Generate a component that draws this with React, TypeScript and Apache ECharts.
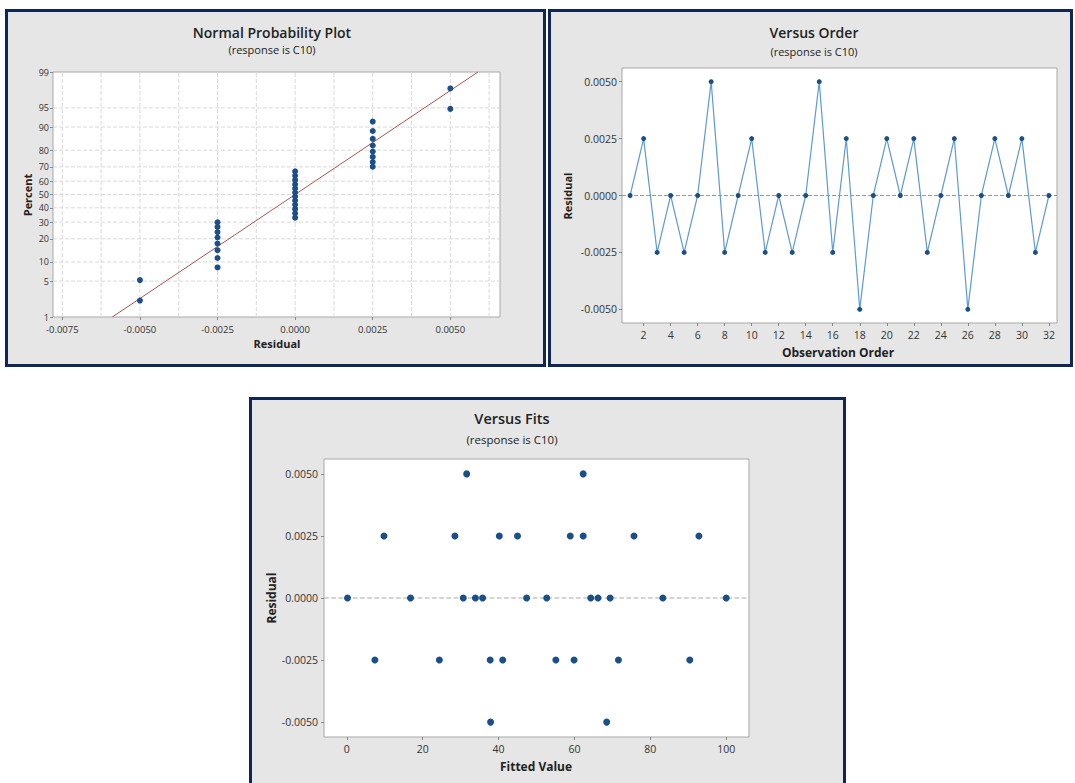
import React, { useEffect, useRef } from "react";
import * as echarts from "echarts";

// ---------- Normal probability plot data ----------
const normalResiduals = [
  -0.005, -0.005,
  -0.0025, -0.0025, -0.0025, -0.0025, -0.0025, -0.0025, -0.0025, -0.0025,
  0, 0, 0, 0, 0, 0, 0, 0, 0, 0, 0, 0,
  0.0025, 0.0025, 0.0025, 0.0025, 0.0025, 0.0025, 0.0025, 0.0025,
  0.005, 0.005,
];
const normalPercents = [
  2.2, 5.2,
  8.3, 11.4, 14.5, 17.6, 20.7, 23.8, 26.9, 29.9,
  33.0, 36.1, 39.2, 42.3, 45.4, 48.5, 51.5, 54.6, 57.7, 60.8, 63.9, 67.0,
  70.1, 73.1, 76.2, 79.3, 82.4, 85.5, 88.6, 91.7,
  94.8, 97.8,
];
const percentTicks = [1, 5, 10, 20, 30, 40, 50, 60, 70, 80, 90, 95, 99];
const percentGrid = [5, 10, 20, 30, 40, 50, 60, 70, 80, 90, 95];
const normalXTicks = [-0.0075, -0.005, -0.0025, 0, 0.0025, 0.005];
const normalXGrid = [-0.0075, -0.00625, -0.005, -0.00375, -0.0025, -0.00125, 0, 0.00125, 0.0025, 0.00375, 0.005, 0.00625];
const normalXRange = [-0.0078, 0.0066];
const fitLineResidual = [-0.00589, 0.00589];
const fitLinePercent = [1, 99];

// ---------- Versus order data ----------
const orderObs = [1, 2, 3, 4, 5, 6, 7, 8, 9, 10, 11, 12, 13, 14, 15, 16, 17, 18, 19, 20, 21, 22, 23, 24, 25, 26, 27, 28, 29, 30, 31, 32];
const orderResiduals = [
  0, 0.0025, -0.0025, 0, -0.0025, 0, 0.005, -0.0025, 0, 0.0025, -0.0025, 0, -0.0025, 0, 0.005, -0.0025,
  0.0025, -0.005, 0, 0.0025, 0, 0.0025, -0.0025, 0, 0.0025, -0.005, 0, 0.0025, 0, 0.0025, -0.0025, 0,
];
const orderXTicks = [2, 4, 6, 8, 10, 12, 14, 16, 18, 20, 22, 24, 26, 28, 30, 32];
const orderXRange = [0.4, 32.6];
const residualTicks = [-0.005, -0.0025, 0, 0.0025, 0.005];
const residualRange = [-0.0056, 0.0056];

// ---------- Versus fits data ----------
const fittedValues = [
  31.6, 62.3,
  9.8, 28.5, 40.2, 45.0, 58.9, 62.3, 75.7, 92.8,
  0.2, 16.8, 30.7, 33.9, 35.8, 47.4, 52.7, 64.3, 66.2, 69.4, 83.3, 100.0,
  7.4, 24.4, 37.8, 41.1, 55.1, 59.9, 71.6, 90.4,
  37.9, 68.5,
];
const fitResiduals = [
  0.005, 0.005,
  0.0025, 0.0025, 0.0025, 0.0025, 0.0025, 0.0025, 0.0025, 0.0025,
  0, 0, 0, 0, 0, 0, 0, 0, 0, 0, 0, 0,
  -0.0025, -0.0025, -0.0025, -0.0025, -0.0025, -0.0025, -0.0025, -0.0025,
  -0.005, -0.005,
];
const fitsXTicks = [0, 20, 40, 60, 80, 100];
const fitsXRange = [-6, 106];

// inverse normal CDF (probability-scale transform)
function probit(p: number): number {
  const a = [-3.969683028665376e1, 2.209460984245205e2, -2.759285104469687e2, 1.38357751867269e2, -3.066479806614716e1, 2.506628277459239];
  const b = [-5.447609879822406e1, 1.615858368580409e2, -1.556989798598866e2, 6.680131188771972e1, -1.328068155288572e1];
  const c = [-7.784894002430293e-3, -3.223964580411365e-1, -2.400758277161838, -2.549732539343734, 4.374664141464968, 2.938163982698783];
  const d = [7.784695709041462e-3, 3.224671290700398e-1, 2.445134137142996, 3.754408661907416];
  const plow = 0.02425;
  const phigh = 1 - plow;
  let q: number, r: number;
  if (p < plow) {
    q = Math.sqrt(-2 * Math.log(p));
    return (((((c[0] * q + c[1]) * q + c[2]) * q + c[3]) * q + c[4]) * q + c[5]) / ((((d[0] * q + d[1]) * q + d[2]) * q + d[3]) * q + 1);
  }
  if (p <= phigh) {
    q = p - 0.5;
    r = q * q;
    return ((((((a[0] * r + a[1]) * r + a[2]) * r + a[3]) * r + a[4]) * r + a[5]) * q) / (((((b[0] * r + b[1]) * r + b[2]) * r + b[3]) * r + b[4]) * r + 1);
  }
  q = Math.sqrt(-2 * Math.log(1 - p));
  return -(((((c[0] * q + c[1]) * q + c[2]) * q + c[3]) * q + c[4]) * q + c[5]) / ((((d[0] * q + d[1]) * q + d[2]) * q + d[3]) * q + 1);
}
const z = (pct: number) => probit(pct / 100);

const FONT = "'Open Sans', 'Noto Sans', sans-serif";
const DOT = "#1b4f87";
const TICK_COLOR = "#333";
const fmt4 = (v: number) => (Math.abs(v) < 1e-12 ? "0.0000" : v.toFixed(4));

export default function App() {
  const ref = useRef<HTMLDivElement>(null);
  useEffect(() => {
    if (!ref.current) return;
    const chart = echarts.init(ref.current, undefined, { renderer: "svg" });

    const zTicks = percentTicks.map(z);
    const zMin = z(1);
    const zMax = z(99);

    const labelStyle = { fontFamily: FONT, color: TICK_COLOR };
    const tickStyle = { show: true, length: 3, lineStyle: { color: "#888" } };
    const noLine = { show: false, onZero: false };

    const refLine = (axis: number, data: number[][], color: string, width: number, zz: number) => ({
      type: "line",
      xAxisIndex: axis,
      yAxisIndex: axis,
      data,
      symbol: "none",
      silent: true,
      z: zz,
      lineStyle: { color, type: "dashed", width },
    });

    const panel = (x: number, y: number, w: number, h: number) => ({
      type: "rect",
      z: -5,
      silent: true,
      shape: { x, y, width: w, height: h },
      style: { fill: "#e6e6e6", stroke: "#0f2657", lineWidth: 3 },
    });
    const text = (t: string, x: number, y: number, size: number, weight: any, rot = 0) => ({
      type: "text",
      x,
      y,
      rotation: rot,
      silent: true,
      style: {
        text: t,
        fontFamily: FONT,
        fontSize: size,
        fontWeight: weight,
        fill: "#222",
        textAlign: "center",
        textVerticalAlign: "middle",
      },
    });

    const gridSeries = [
      ...normalXGrid.map((v) => refLine(0, [[v, zMin], [v, zMax]], "#d9d9d9", 1, 1)),
      ...percentGrid.map((p) => refLine(0, [[normalXRange[0], z(p)], [normalXRange[1], z(p)]], "#d9d9d9", 1, 1)),
    ];

    const option: any = {
      animation: false,
      backgroundColor: "#ffffff",
      graphic: {
        elements: [
          panel(6.5, 10.5, 538, 355),
          panel(549.5, 10.5, 522, 355),
          panel(250.5, 398.5, 594, 400),
          text("Normal Probability Plot", 272, 32, 14, 600),
          text("(response is C10)", 272, 49, 11, "normal"),
          text("Percent", 27, 195, 11, "bold", Math.PI / 2),
          text("Residual", 277, 343, 11, "bold"),
          text("Versus Order", 814, 32, 14, 600),
          text("(response is C10)", 814, 51, 11, "normal"),
          text("Residual", 567, 196, 11, "bold", Math.PI / 2),
          text("Observation Order", 838, 352, 12, "bold"),
          text("Versus Fits", 512, 418, 14.5, 600),
          text("(response is C10)", 512, 439, 11.5, "normal"),
          text("Residual", 271, 598, 12, "bold", Math.PI / 2),
          text("Fitted Value", 536, 766, 12, "bold"),
        ],
      },
      grid: [
        { left: 53, top: 72, width: 447, height: 245, show: true, backgroundColor: "#fff", borderColor: "#a8a8a8", borderWidth: 1 },
        { left: 622, top: 68, width: 435, height: 255, show: true, backgroundColor: "#fff", borderColor: "#a8a8a8", borderWidth: 1 },
        { left: 324, top: 459, width: 425, height: 278, show: true, backgroundColor: "#fff", borderColor: "#a8a8a8", borderWidth: 1 },
      ],
      xAxis: [
        {
          gridIndex: 0, type: "value", min: normalXRange[0], max: normalXRange[1],
          axisLine: noLine, splitLine: { show: false },
          axisTick: { ...tickStyle, customValues: normalXTicks },
          axisLabel: { ...labelStyle, fontSize: 9.5, margin: 7, customValues: normalXTicks, formatter: fmt4 },
        },
        {
          gridIndex: 1, type: "value", min: orderXRange[0], max: orderXRange[1],
          axisLine: noLine, splitLine: { show: false },
          axisTick: { ...tickStyle, customValues: orderXTicks },
          axisLabel: { ...labelStyle, fontSize: 10.5, margin: 6, customValues: orderXTicks },
        },
        {
          gridIndex: 2, type: "value", min: fitsXRange[0], max: fitsXRange[1],
          axisLine: noLine, splitLine: { show: false },
          axisTick: { ...tickStyle, customValues: fitsXTicks },
          axisLabel: { ...labelStyle, fontSize: 10.5, margin: 6, customValues: fitsXTicks },
        },
      ],
      yAxis: [
        {
          gridIndex: 0, type: "value", min: zMin, max: zMax,
          axisLine: noLine, splitLine: { show: false },
          axisTick: { ...tickStyle, customValues: zTicks },
          axisLabel: {
            ...labelStyle, fontSize: 9, margin: 4, customValues: zTicks,
            formatter: (v: number) => {
              const i = zTicks.findIndex((t) => Math.abs(t - v) < 1e-6);
              return i >= 0 ? String(percentTicks[i]) : "";
            },
          },
        },
        {
          gridIndex: 1, type: "value", min: residualRange[0], max: residualRange[1],
          axisLine: noLine, splitLine: { show: false },
          axisTick: { ...tickStyle, customValues: residualTicks },
          axisLabel: { ...labelStyle, fontSize: 10.5, margin: 5, customValues: residualTicks, formatter: fmt4 },
        },
        {
          gridIndex: 2, type: "value", min: residualRange[0], max: residualRange[1],
          axisLine: noLine, splitLine: { show: false },
          axisTick: { ...tickStyle, customValues: residualTicks },
          axisLabel: { ...labelStyle, fontSize: 10.5, margin: 6, customValues: residualTicks, formatter: fmt4 },
        },
      ],
      series: [
        ...gridSeries,
        {
          type: "line", xAxisIndex: 0, yAxisIndex: 0, symbol: "none", silent: true, z: 2,
          lineStyle: { color: "#a4564f", width: 1 },
          data: fitLineResidual.map((x, i) => [x, z(fitLinePercent[i])]),
        },
        {
          type: "scatter", xAxisIndex: 0, yAxisIndex: 0, symbolSize: 6, z: 5,
          itemStyle: { color: DOT, opacity: 1 },
          data: normalResiduals.map((x, i) => [x, z(normalPercents[i])]),
        },
        // versus order
        refLine(1, [[orderXRange[0], 0], [orderXRange[1], 0]], "#999", 1, 1),
        {
          type: "line", xAxisIndex: 1, yAxisIndex: 1, symbol: "circle", symbolSize: 5, z: 5,
          lineStyle: { color: "#5d9ad6", width: 1.2 },
          itemStyle: { color: DOT, opacity: 1 },
          data: orderObs.map((o, i) => [o, orderResiduals[i]]),
        },
        // versus fits
        refLine(2, [[fitsXRange[0], 0], [fitsXRange[1], 0]], "#aaa", 1.2, 1),
        {
          type: "scatter", xAxisIndex: 2, yAxisIndex: 2, symbolSize: 7, z: 5,
          itemStyle: { color: DOT, opacity: 1 },
          data: fittedValues.map((f, i) => [f, fitResiduals[i]]),
        },
      ],
    };
    chart.setOption(option);
    return () => chart.dispose();
  }, []);
  return <div ref={ref} style={{ position: "absolute", left: 0, top: 0, width: 1075, height: 783 }} />;
}
